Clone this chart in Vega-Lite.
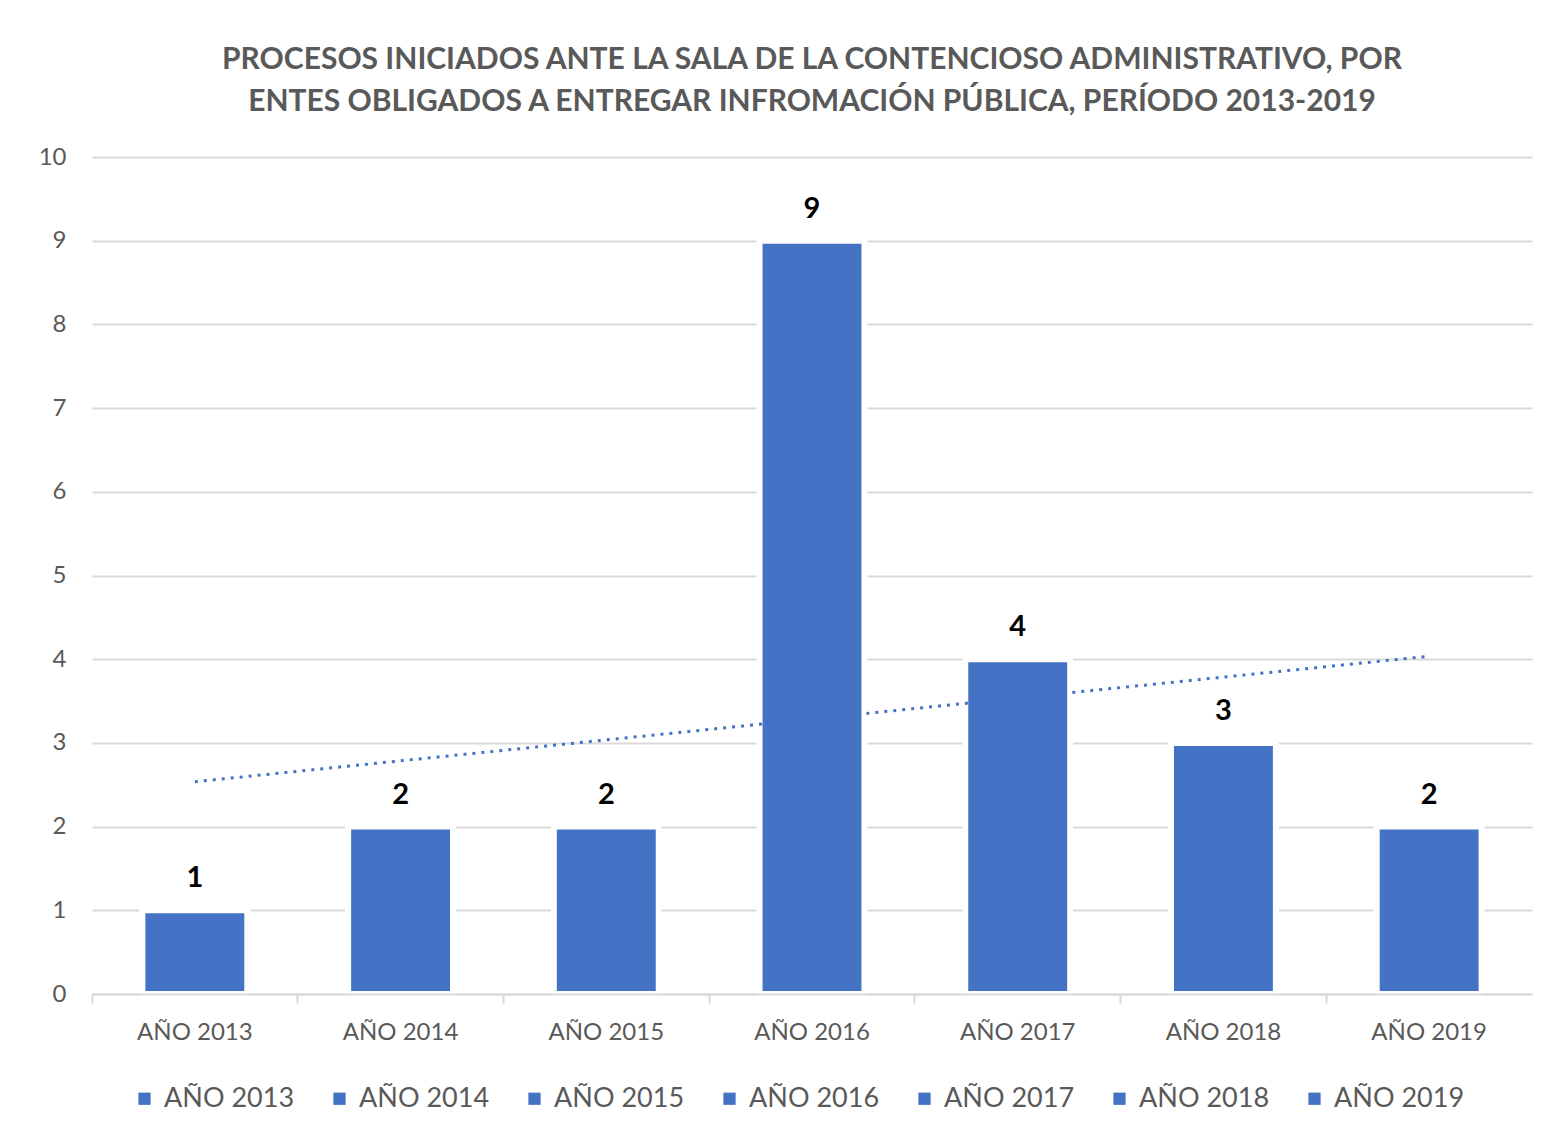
{
  "$schema": "https://vega.github.io/schema/vega-lite/v6.json",
  "autosize": {"type": "none"},
  "width": 1440,
  "height": 837,
  "padding": {"left": 92, "top": 157, "right": 23, "bottom": 145},
  "background": "white",
  "config": {
    "view": {"stroke": null},
    "font": "Lato"
  },
  "title": {
    "text": ["PROCESOS INICIADOS ANTE LA SALA DE LA CONTENCIOSO ADMINISTRATIVO, POR", "ENTES OBLIGADOS A ENTREGAR INFROMACIÓN PÚBLICA, PERÍODO 2013-2019"],
    "font": "Lato",
    "fontSize": 30,
    "fontWeight": "bold",
    "color": "#595959",
    "lineHeight": 42,
    "anchor": "middle",
    "offset": 28
  },
  "data": {
    "values": [
      {"year": "AÑO 2013", "value": 1, "trend": 2.536},
      {"year": "AÑO 2014", "value": 2, "trend": 2.786},
      {"year": "AÑO 2015", "value": 2, "trend": 3.036},
      {"year": "AÑO 2016", "value": 9, "trend": 3.286},
      {"year": "AÑO 2017", "value": 4, "trend": 3.536},
      {"year": "AÑO 2018", "value": 3, "trend": 3.786},
      {"year": "AÑO 2019", "value": 2, "trend": 4.036}
    ]
  },
  "encoding": {
    "x": {
      "field": "year",
      "type": "nominal",
      "sort": null,
      "title": null,
      "scale": {"paddingInner": 0.49, "paddingOuter": 0.245},
      "axis": {
        "labelAngle": 0,
        "labelFont": "Lato",
        "labelFontSize": 24,
        "labelColor": "#595959",
        "labelPadding": 17,
        "domainColor": "#D9D9D9",
        "domainWidth": 2,
        "tickColor": "#D9D9D9",
        "tickWidth": 2,
        "tickSize": 9,
        "bandPosition": -0.48,
        "zindex": 1
      }
    },
    "y": {
      "field": "value",
      "type": "quantitative",
      "title": null,
      "scale": {"domain": [0, 10]},
      "axis": {
        "values": [0, 1, 2, 3, 4, 5, 6, 7, 8, 9, 10],
        "format": "d",
        "domain": false,
        "ticks": false,
        "labelFont": "Lato",
        "labelFontSize": 24,
        "labelColor": "#595959",
        "labelPadding": 26,
        "gridColor": "#D9D9D9",
        "gridWidth": 2,
        "title": null
      }
    }
  },
  "layer": [
    {
      "mark": {"type": "bar", "stroke": "white", "strokeWidth": 6},
      "encoding": {
        "color": {
          "field": "year",
          "type": "nominal",
          "sort": null,
          "scale": {"range": ["#4472C4", "#4472C4", "#4472C4", "#4472C4", "#4472C4", "#4472C4", "#4472C4"]},
          "legend": {
            "title": null,
            "orient": "none",
            "legendX": 39,
            "legendY": 928,
            "padding": 0,
            "direction": "horizontal",
            "columns": 7,
            "symbolType": "square",
            "symbolSize": 150,
            "symbolStrokeWidth": 0,
            "labelFont": "Lato",
            "labelFontSize": 27,
            "labelColor": "#595959",
            "labelOffset": 6,
            "columnPadding": 31
          }
        }
      }
    },
    {
      "mark": {"type": "line", "color": "#4472C4", "strokeWidth": 3, "strokeDash": [3, 6]},
      "encoding": {
        "y": {"field": "trend", "type": "quantitative"}
      }
    },
    {
      "mark": {"type": "text", "fontWeight": "bold", "fontSize": 29, "font": "Lato", "color": "#000000", "baseline": "alphabetic", "dy": -23},
      "encoding": {
        "text": {"field": "value", "type": "quantitative"}
      }
    }
  ]
}
